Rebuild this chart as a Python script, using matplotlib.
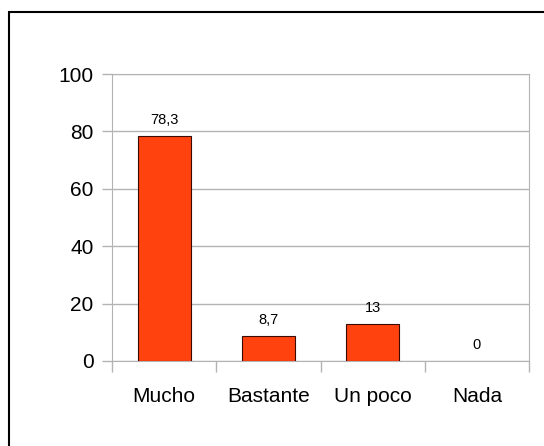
import matplotlib.pyplot as plt
from matplotlib.patches import Rectangle

categories = ["Mucho", "Bastante", "Un poco", "Nada"]
values = [78.3, 8.7, 13, 0]
value_labels = ["78,3", "8,7", "13", "0"]

plt.rcParams['font.family'] = ['Liberation Sans', 'DejaVu Sans']

fig = plt.figure(figsize=(5.44, 4.46), dpi=100)
W, H = 544, 446

# frame around the chart (right/bottom edges fall outside the image)
fig.patches.append(Rectangle((9 / W, -0.1), 1.2, 1 - 12 / H + 0.1,
                             transform=fig.transFigure, fill=False,
                             edgecolor='black', linewidth=1.5))

ax = fig.add_axes([112 / W, 1 - 361 / H, (529 - 112) / W, (361 - 74) / H])

x = range(len(categories))
edge_w = [0.8 if v > 0 else 0 for v in values]
ax.bar(x, values, width=0.51, color='#ff420e', edgecolor='#3a0a00', linewidth=edge_w, zorder=3)

for i, (v, lab) in enumerate(zip(values, value_labels)):
    ax.text(i, v + 3.2, lab, ha='center', va='bottom', fontsize=10.5)

ax.set_xlim(-0.5, len(categories) - 0.5)
ax.set_ylim(0, 100)
ax.set_yticks(range(0, 101, 20))
ax.yaxis.grid(True, color='#b3b3b3', linewidth=1, zorder=0)

for side in ['top', 'right', 'left', 'bottom']:
    ax.spines[side].set_color('#b3b3b3')

ax.set_xticks([i - 0.5 for i in range(len(categories) + 1)], minor=False)
ax.set_xticklabels([])
ax.set_xticks(list(x), minor=True)
ax.set_xticklabels(categories, minor=True)
ax.tick_params(axis='x', which='major', length=8, color='#b3b3b3', width=1)
ax.tick_params(axis='x', which='minor', length=0, labelsize=15, pad=19)
ax.tick_params(axis='y', length=7.2, color='#b3b3b3', width=1, labelsize=15, pad=6)

fig.savefig('out.png', dpi=100)
